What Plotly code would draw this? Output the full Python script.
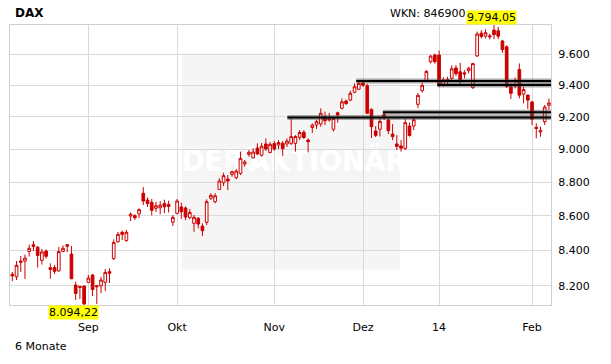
import math
import pandas as pd
import plotly.graph_objects as go

TITLE = "DAX"
WKN = "WKN: 846900"
PERIOD = "6 Monate"
HIGH_LABEL = "9.794,05"
LOW_LABEL = "8.094,22"
WATERMARK_LEFT = "DER"
WATERMARK_RIGHT = "AKTIONÄR"

HOLIDAYS = ["2013-12-24", "2013-12-25", "2013-12-26", "2013-12-31", "2014-01-01"]
DATES = [d for d in pd.bdate_range("2013-08-07", "2014-02-07")
         if d.strftime("%Y-%m-%d") not in HOLIDAYS]

OPEN = [8265, 8251, 8332, 8340, 8395, 8423, 8419, 8344, 8397, 8302,
        8303, 8284, 8395, 8424, 8380, 8205, 8198, 8199, 8220, 8261,
        8195, 8201, 8220, 8280, 8354, 8450, 8505, 8457, 8600, 8602,
        8613, 8734, 8694, 8680, 8645, 8648, 8674, 8668, 8563, 8615,
        8653, 8647, 8590, 8557, 8586, 8541, 8563, 8704, 8684, 8757,
        8797, 8819, 8847, 8827, 8853, 8910, 8969, 8948, 9007, 8963,
        9032, 8980, 9034, 9026, 9036, 9032, 9036, 9036, 9073, 9104,
        9056, 9134, 9149, 9156, 9199, 9188, 9123, 9226, 9254, 9300,
        9306, 9356, 9375, 9416, 9398, 9247, 9112, 9123, 9216, 9181,
        9093, 9032, 9020, 9005, 9143, 9143, 9279, 9366, 9430, 9552,
        9596, 9596, 9402, 9438, 9445, 9512, 9487, 9480, 9494, 9385,
        9590, 9740, 9720, 9722, 9760, 9755, 9688, 9650, 9391, 9395,
        9502, 9344, 9338, 9294, 9135, 9106, 9170, 9273]
HIGH = [8278, 8340, 8369, 8377, 8434, 8455, 8426, 8409, 8406, 8327,
        8317, 8420, 8429, 8437, 8426, 8224, 8199, 8202, 8261, 8267,
        8204, 8250, 8295, 8299, 8464, 8507, 8515, 8518, 8621, 8610,
        8645, 8771, 8709, 8700, 8684, 8688, 8696, 8690, 8606, 8700,
        8679, 8656, 8641, 8606, 8594, 8557, 8698, 8734, 8734, 8823,
        8857, 8843, 8869, 8878, 8985, 8934, 8995, 9007, 9036, 9038,
        9066, 9044, 9050, 9056, 9050, 9066, 9196, 9087, 9118, 9118,
        9067, 9159, 9181, 9254, 9233, 9225, 9201, 9233, 9317, 9309,
        9366, 9413, 9424, 9428, 9410, 9254, 9143, 9198, 9229, 9191,
        9155, 9087, 9056, 9189, 9164, 9195, 9352, 9417, 9499, 9596,
        9605, 9625, 9452, 9455, 9528, 9530, 9545, 9498, 9519, 9545,
        9750, 9760, 9765, 9735, 9794.05, 9782, 9695, 9660, 9413, 9450,
        9541, 9391, 9340, 9300, 9160, 9139, 9275, 9316]
LOW = [8227, 8233, 8278, 8239, 8366, 8397, 8303, 8320, 8354, 8241,
       8267, 8280, 8391, 8391, 8238, 8122, 8127, 8094.22, 8216, 8144,
       8100, 8160, 8172, 8216, 8346, 8445, 8460, 8451, 8570, 8576,
       8588, 8664, 8653, 8603, 8623, 8610, 8617, 8620, 8541, 8610,
       8583, 8576, 8582, 8508, 8528, 8483, 8547, 8694, 8674, 8753,
       8777, 8753, 8833, 8817, 8843, 8893, 8954, 8943, 8964, 8954,
       8989, 8975, 8989, 9001, 8958, 9013, 9026, 8985, 9056, 9063,
       8980, 9100, 9125, 9139, 9149, 9171, 9108, 9165, 9248, 9275,
       9299, 9349, 9370, 9391, 9219, 9069, 9075, 9078, 9181, 9093,
       9056, 8995, 8985, 8995, 9077, 9118, 9254, 9353, 9428, 9541,
       9540, 9390, 9390, 9395, 9430, 9460, 9408, 9445, 9477, 9377,
       9582, 9705, 9705, 9698, 9700, 9700, 9610, 9382, 9313, 9380,
       9317, 9285, 9250, 9149, 9067, 9077, 9149, 9243]
CLOSE = [8257, 8316, 8340, 8357, 8413, 8434, 8372, 8392, 8367, 8293,
         8282, 8394, 8413, 8434, 8240, 8158, 8192, 8100, 8244, 8180,
         8202, 8233, 8276, 8271, 8447, 8493, 8493, 8505, 8610, 8590,
         8637, 8688, 8673, 8633, 8660, 8664, 8654, 8656, 8592, 8688,
         8625, 8594, 8621, 8592, 8553, 8514, 8684, 8722, 8719, 8807,
         8839, 8807, 8863, 8867, 8944, 8922, 8981, 8983, 8971, 9018,
         9001, 9030, 9001, 9041, 9003, 9050, 9077, 9078, 9103, 9072,
         9046, 9149, 9170, 9223, 9176, 9182, 9190, 9212, 9295, 9284,
         9349, 9391, 9413, 9400, 9223, 9139, 9085, 9172, 9195, 9114,
         9077, 9017, 9006, 9164, 9085, 9182, 9336, 9400, 9489, 9589,
         9552, 9400, 9435, 9428, 9506, 9475, 9422, 9473, 9510, 9540,
         9734, 9718, 9743, 9716, 9730, 9720, 9631, 9392, 9349, 9407,
         9337, 9373, 9306, 9186, 9128, 9116, 9262, 9288]

MONTH_LABELS = ["Sep", "Okt", "Nov", "Dez", "14", "Feb"]
Y_TICKS = [8200, 8400, 8600, 8800, 9000, 9200, 9400, 9600]
Y_TICK_LABELS = ["8.200", "8.400", "8.600", "8.800", "9.000", "9.200", "9.400", "9.600"]

# horizontal support / resistance lines: start (trading-day index) and level
LINE_START = [65.1, 81.4, 87.7, 100.6]
LINE_LEVEL = [9197, 9427, 9229, 9402]

RED = "#cc0000"
GRID = "#dadada"
FONT = "DejaVu Sans"

x = list(range(len(DATES)))
tick_pos = [i for i in range(1, len(DATES)) if DATES[i].month != DATES[i - 1].month]
x_range = [-0.545, len(DATES) - 1 + 0.49]

fig = go.Figure()
fig.add_trace(go.Candlestick(
    x=x, open=OPEN, high=HIGH, low=LOW, close=CLOSE,
    increasing=dict(line=dict(color=RED, width=1), fillcolor="white"),
    decreasing=dict(line=dict(color=RED, width=1), fillcolor=RED),
    whiskerwidth=0, hoverinfo="skip", showlegend=False,
))

shapes = []
# watermark panel
shapes.append(dict(type="rect", xref="paper", yref="paper", x0=0.318, x1=0.721,
                   y0=0.126, y1=0.900, fillcolor="#f5f5f5", line=dict(width=0),
                   layer="below"))
wm_font = dict(family="Liberation Sans Narrow, DejaVu Sans Condensed, Liberation Sans",
               size=30, color="white", weight="bold")
shapes.append(dict(type="rect", xref="paper", yref="paper", x0=0.335, x1=0.415,
                   y0=0.45, y1=0.60, line=dict(width=0), fillcolor="rgba(0,0,0,0)",
                   layer="below",
                   label=dict(text="<b>" + WATERMARK_LEFT + "</b>", font=wm_font,
                              textposition="middle center")))
shapes.append(dict(type="rect", xref="paper", yref="paper", x0=0.466, x1=0.708,
                   y0=0.45, y1=0.60, line=dict(width=0), fillcolor="rgba(0,0,0,0)",
                   layer="below",
                   label=dict(text="<b>" + WATERMARK_RIGHT + "</b>", font=wm_font,
                              textposition="middle center")))
shapes.append(dict(type="circle", xref="paper", yref="paper", x0=0.431, x1=0.466,
                   y0=0.49, y1=0.56, line=dict(color="white", width=3),
                   layer="below"))

for start, level in zip(LINE_START, LINE_LEVEL):
    shapes.append(dict(type="line", xref="x", yref="y", x0=start, x1=x_range[1],
                       y0=level, y1=level,
                       line=dict(color="rgba(70,70,70,0.45)", width=5)))
    shapes.append(dict(type="line", xref="x", yref="y", x0=start, x1=x_range[1],
                       y0=level, y1=level, line=dict(color="black", width=2)))

annotations = [
    dict(text="<b>" + TITLE + "</b>", xref="paper", yref="paper", x=0.005, y=1.0435,
         xanchor="left", yanchor="middle", showarrow=False,
         font=dict(family=FONT, size=12, color="black")),
    dict(text=WKN, xref="paper", yref="paper", x=0.8458, y=1.040,
         xanchor="right", yanchor="middle", showarrow=False,
         font=dict(family=FONT, size=11, color="black")),
    dict(text=HIGH_LABEL, xref="paper", yref="paper", x=0.890, y=1.0,
         xanchor="center", yanchor="bottom", showarrow=False, bgcolor="#ffff00",
         borderpad=0, font=dict(family=FONT, size=11, color="black")),
    dict(text=LOW_LABEL, xref="paper", yref="paper", x=0.1174, y=0.0,
         xanchor="center", yanchor="top", showarrow=False, bgcolor="#ffff00",
         borderpad=0, font=dict(family=FONT, size=11, color="black")),
    dict(text=PERIOD, xref="paper", yref="paper", x=0.005, y=-0.147,
         xanchor="left", yanchor="middle", showarrow=False,
         font=dict(family=FONT, size=11, color="black")),
]

fig.update_layout(
    width=611, height=364,
    margin=dict(l=10, r=60.3, t=25, b=58.7, autoexpand=False),
    paper_bgcolor="white", plot_bgcolor="white",
    boxgap=0.1,
    shapes=shapes, annotations=annotations,
    xaxis=dict(range=x_range, tickvals=tick_pos, ticktext=MONTH_LABELS,
               showgrid=True, gridcolor=GRID, gridwidth=1, zeroline=False,
               showline=True, linecolor="#cfcfcf", linewidth=1, mirror=True,
               ticks="outside", ticklen=12, tickcolor="rgba(0,0,0,0)",
               tickfont=dict(family=FONT, size=11, color="black"),
               automargin=False,
               rangeslider=dict(visible=False), fixedrange=True),
    yaxis=dict(type="log", range=[math.log10(min(LOW)), math.log10(max(HIGH))],
               side="right", tickvals=Y_TICKS, ticktext=Y_TICK_LABELS,
               showgrid=True, gridcolor=GRID, gridwidth=1, zeroline=False,
               showline=True, linecolor="#cfcfcf", linewidth=1, mirror=True,
               ticks="outside", ticklen=4, tickcolor="rgba(0,0,0,0)",
               tickfont=dict(family=FONT, size=11, color="black"),
               automargin=False, fixedrange=True),
)

fig.write_html("out.html",
               config={"displayModeBar": False, "staticPlot": True},
               post_script="document.body.style.margin='0px';"
                           "document.body.style.overflow='hidden';")
